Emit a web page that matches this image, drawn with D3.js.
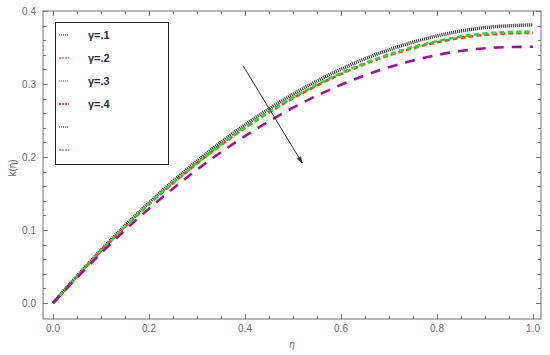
<!DOCTYPE html>
<html>
<head>
<meta charset="utf-8">
<script src="https://cdn.jsdelivr.net/npm/d3@7"></script>
<style>
body { margin: 0; background: #fff; }
text { font-family: "Liberation Sans", Arial, sans-serif; }
</style>
</head>
<body>
<script>
// values
var eta = [0, 0.1, 0.2, 0.3, 0.4, 0.5, 0.6, 0.7, 0.8, 0.9, 1.0];
var k1 = [0, 0.0725, 0.1373, 0.1945, 0.2441, 0.2860, 0.3203, 0.3469, 0.3659, 0.3773, 0.381];
var k2 = [0, 0.0714, 0.1351, 0.1912, 0.2397, 0.2805, 0.3137, 0.3392, 0.3571, 0.3674, 0.370];
var k3 = [0, 0.0716, 0.1355, 0.1918, 0.2405, 0.2815, 0.3149, 0.3406, 0.3587, 0.3692, 0.372];
var k4 = [0, 0.0682, 0.1291, 0.1826, 0.2287, 0.2675, 0.2989, 0.3230, 0.3397, 0.3490, 0.351];
var legendLabels = ["\u03b3=.1", "\u03b3=.2", "\u03b3=.3", "\u03b3=.4", "", ""];
var xTicks = [0, 0.2, 0.4, 0.6, 0.8, 1.0];
var yTicks = [0, 0.1, 0.2, 0.3, 0.4];
var arrowFrom = [0.396, 0.325];
var arrowTo = [0.519, 0.192];

var W = 550, H = 355;
var frame = {left: 43, right: 541, top: 11, bottom: 319};

var x = d3.scaleLinear().domain([0, 1]).range([53, 533]);
var y = d3.scaleLinear().domain([0, 0.4]).range([303, 11]);

var svg = d3.select("body").append("svg").attr("width", W).attr("height", H);

var series = [
    {vals: k1, color: "#3a3a3a", width: 3.4, dash: "1.1,0.9"},
    {vals: k2, color: "#ff3a3a", width: 2.6, dash: "5,3"},
    {vals: k3, color: "#22e022", width: 2.6, dash: "5,3.5"},
    {vals: k4, color: "#a0129c", width: 2.6, dash: "10,8"}
];
var legendStyles = [
    {color: "#666", dash: "1,1"},
    {color: "#ff5a5a", dash: "2,1"},
    {color: "#22e022", dash: "1,1"},
    {color: "#b0209c", dash: "2,1"},
    {color: "#666", dash: "1,1"},
    {color: "#ff5a5a", dash: "2,1"}
];

// frame
svg.append("rect")
    .attr("x", frame.left).attr("y", frame.top)
    .attr("width", frame.right - frame.left).attr("height", frame.bottom - frame.top)
    .attr("fill", "none").attr("stroke", "#707070").attr("stroke-width", 1);

// ticks on all four sides, pointing inward
var xMinor = d3.range(0, 1.0001, 0.05);
var yMinor = d3.range(0, 0.4001, 0.02);
var g = svg.append("g").attr("stroke", "#707070").attr("stroke-width", 1);
xMinor.forEach((t) => {
    var major = xTicks.some((m) => Math.abs(m - t) < 1e-6);
    var len = major ? 5 : 3;
    var px = Math.round(x(t)) + 0.5;
    g.append("line").attr("x1", px).attr("x2", px).attr("y1", frame.bottom).attr("y2", frame.bottom - len);
    g.append("line").attr("x1", px).attr("x2", px).attr("y1", frame.top).attr("y2", frame.top + len);
});
yMinor.forEach((t) => {
    var major = yTicks.some((m) => Math.abs(m - t) < 1e-6);
    var len = major ? 5 : 3;
    var py = Math.round(y(t)) + 0.5;
    g.append("line").attr("y1", py).attr("y2", py).attr("x1", frame.left).attr("x2", frame.left + len);
    g.append("line").attr("y1", py).attr("y2", py).attr("x1", frame.right).attr("x2", frame.right - len);
});

// tick labels
svg.selectAll(".xl").data(xTicks).enter().append("text")
    .attr("x", (d) => x(d)).attr("y", 332)
    .attr("text-anchor", "middle").attr("font-size", 10).attr("fill", "#6a6a78")
    .text((d) => d.toFixed(1));
svg.selectAll(".yl").data(yTicks).enter().append("text")
    .attr("x", 36).attr("y", (d) => y(d) + 3.5)
    .attr("text-anchor", "end").attr("font-size", 10).attr("fill", "#6a6a78")
    .text((d) => d.toFixed(1));

// axis labels
svg.append("text").attr("x", 292).attr("y", 348)
    .attr("text-anchor", "middle").attr("font-size", 10).attr("font-style", "italic").attr("fill", "#6a6a78")
    .text("\u03b7");
svg.append("text").attr("transform", "translate(16,168) rotate(-90)")
    .attr("text-anchor", "middle").attr("font-size", 10).attr("fill", "#6a6a78")
    .text("k(\u03b7)");

// curves
var line = d3.line()
    .x((d, i) => x(eta[i]))
    .y((d) => y(d))
    .curve(d3.curveNatural);
series.forEach((s) => {
    svg.append("path")
        .attr("d", line(s.vals))
        .attr("fill", "none")
        .attr("stroke", s.color)
        .attr("stroke-width", s.width)
        .attr("stroke-dasharray", s.dash);
});

// arrow
svg.append("defs").append("marker")
    .attr("id", "ah").attr("viewBox", "0 0 10 10")
    .attr("refX", 9).attr("refY", 5)
    .attr("markerWidth", 7).attr("markerHeight", 7)
    .attr("orient", "auto")
    .append("path").attr("d", "M0,1.5 L10,5 L0,8.5 Z").attr("fill", "#333");
svg.append("line")
    .attr("x1", x(arrowFrom[0])).attr("y1", y(arrowFrom[1]))
    .attr("x2", x(arrowTo[0])).attr("y2", y(arrowTo[1]))
    .attr("stroke", "#333").attr("stroke-width", 1)
    .attr("marker-end", "url(#ah)");

// legend
var lg = svg.append("g");
lg.append("rect").attr("x", 55.5).attr("y", 22.5).attr("width", 113).attr("height", 142)
    .attr("fill", "#fff").attr("stroke", "#222").attr("stroke-width", 1);
legendLabels.forEach((lab, i) => {
    var ly = 35 + i * 23;
    lg.append("line").attr("x1", 59).attr("x2", 69).attr("y1", ly).attr("y2", ly)
        .attr("stroke", legendStyles[i].color).attr("stroke-width", 1.3)
        .attr("stroke-dasharray", legendStyles[i].dash);
    lg.append("text").attr("x", 88).attr("y", ly + 4)
        .attr("font-size", 11).attr("font-weight", "bold").attr("fill", "#2a3040")
        .text(lab);
});
</script>
</body>
</html>
